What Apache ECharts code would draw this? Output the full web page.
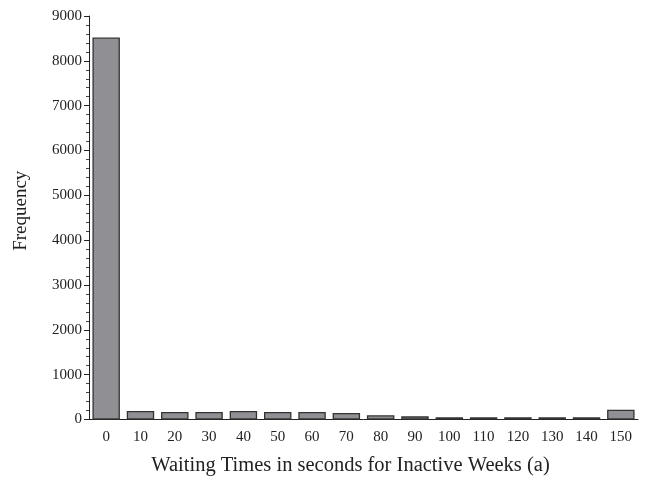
<!DOCTYPE html>
<html>
<head>
<meta charset="utf-8">
<script src="https://cdn.jsdelivr.net/npm/echarts@6/dist/echarts.min.js"></script>
<style>
  html, body { margin: 0; padding: 0; background: #fff; }
  #chart { width: 647px; height: 483px; }
</style>
</head>
<body>
<div id="chart"></div>
<script>
// Waiting-time bins (seconds) and their frequencies
const categories = ['0', '10', '20', '30', '40', '50', '60', '70', '80', '90', '100', '110', '120', '130', '140', '150'];
const frequencies = [8520, 190, 167, 167, 190, 170, 170, 145, 95, 70, 50, 50, 50, 50, 50, 220];
const yTicks = [0, 1000, 2000, 3000, 4000, 5000, 6000, 7000, 8000, 9000];

const font = 'Liberation Serif';
const chart = echarts.init(document.getElementById('chart'), null, { renderer: 'canvas' });

chart.setOption({
  backgroundColor: '#ffffff',
  animation: false,
  grid: { left: 89, right: 9, top: 16, bottom: 63.5, containLabel: false },
  xAxis: {
    type: 'category',
    data: categories,
    boundaryGap: true,
    name: 'Waiting Times in seconds for Inactive Weeks (a)',
    nameLocation: 'middle',
    nameGap: 36,
    nameTextStyle: { fontFamily: font, fontSize: 20.5, color: '#222', padding: [0, 26, 0, 0] },
    axisLine: { lineStyle: { color: '#222', width: 1 } },
    axisTick: { show: false },
    axisLabel: { fontFamily: font, fontSize: 15, color: '#222', margin: 10 }
  },
  yAxis: {
    type: 'value',
    min: yTicks[0],
    max: yTicks[yTicks.length - 1],
    interval: 1000,
    name: 'Frequency',
    nameLocation: 'middle',
    nameGap: 58,
    nameTextStyle: { fontFamily: font, fontSize: 19, color: '#222', padding: [0, 0, 0, 14] },
    axisLine: { show: true, lineStyle: { color: '#222', width: 1 } },
    axisTick: { show: true, length: 5, lineStyle: { color: '#222' } },
    minorTick: { show: true, splitNumber: 5, length: 3, lineStyle: { color: '#444' } },
    splitLine: { show: false },
    axisLabel: {
      fontFamily: font, fontSize: 15, color: '#222', margin: 7,
      formatter: v => String(v)
    }
  },
  series: [{
    type: 'bar',
    data: frequencies,
    barCategoryGap: '20%',
    itemStyle: { color: '#909094', borderColor: '#333', borderWidth: 1.3 }
  }]
});
</script>
</body>
</html>
